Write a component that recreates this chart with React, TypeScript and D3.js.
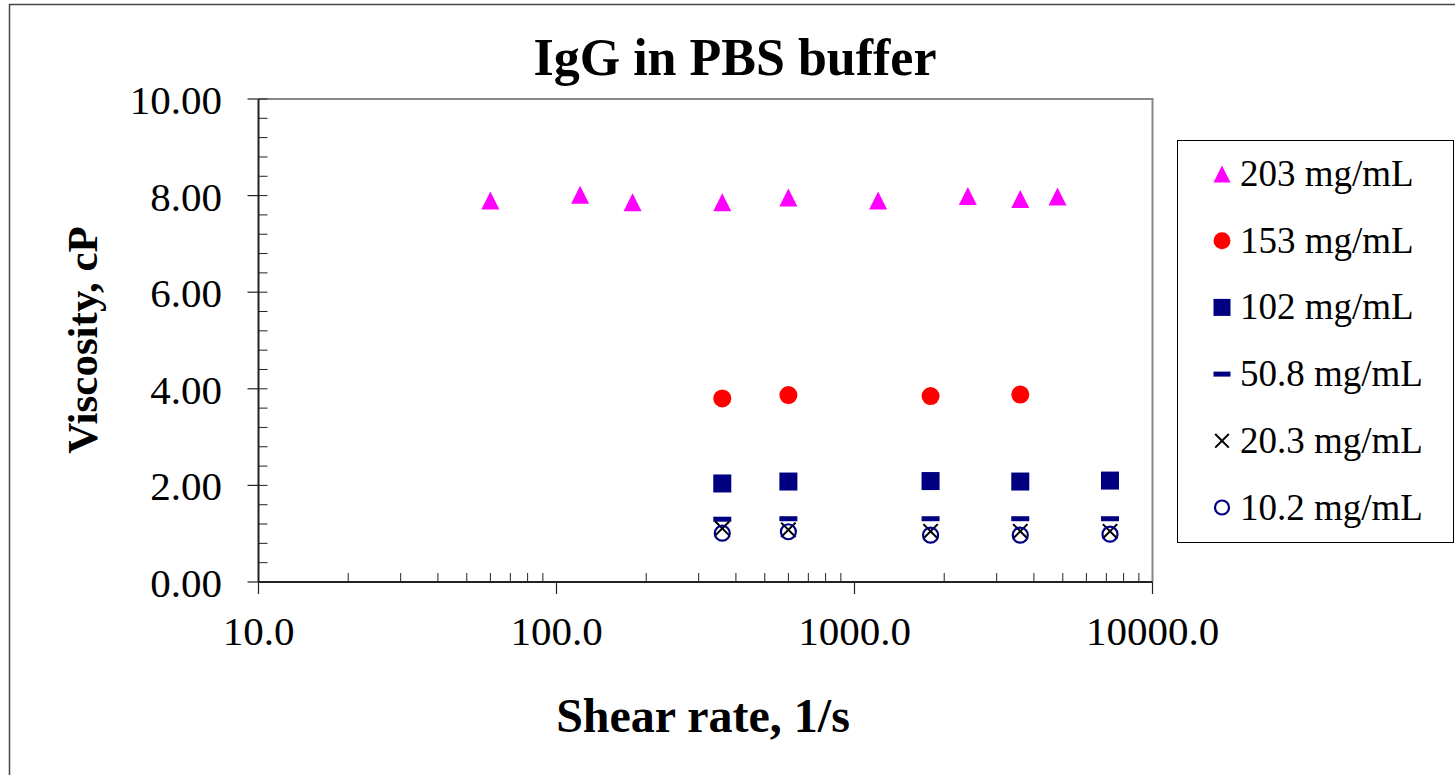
import * as d3 from "d3";

// shear rates (1/s) and viscosities (cP) per concentration
const rates203 = [60, 120, 180, 360, 600, 1200, 2400, 3600, 4800];
const visc203 = [7.9, 8.02, 7.86, 7.86, 7.96, 7.9, 7.99, 7.93, 7.98];
const rates153 = [360, 600, 1800, 3600];
const visc153 = [3.8, 3.87, 3.85, 3.88];
const ratesLow = [360, 600, 1800, 3600, 7200];
const visc102 = [2.04, 2.08, 2.09, 2.08, 2.1];
const visc508 = [1.3, 1.31, 1.31, 1.31, 1.31];
const visc203b = [1.11, 1.08, 1.05, 1.05, 1.05];
const visc102b = [1.01, 1.04, 0.97, 0.97, 0.99];

const legendLabels = ["203 mg/mL", "153 mg/mL", "102 mg/mL", "50.8 mg/mL", "20.3 mg/mL", "10.2 mg/mL"];
const xTicks = [10, 100, 1000, 10000];
const yTicks = [0, 2, 4, 6, 8, 10];

type Kind = "tri" | "dot" | "sq" | "dash" | "x" | "ring";

const series: { kind: Kind; xs: number[]; ys: number[] }[] = [
  { kind: "tri", xs: rates203, ys: visc203 },
  { kind: "dot", xs: rates153, ys: visc153 },
  { kind: "sq", xs: ratesLow, ys: visc102 },
  { kind: "dash", xs: ratesLow, ys: visc508 },
  { kind: "x", xs: ratesLow, ys: visc203b },
  { kind: "ring", xs: ratesLow, ys: visc102b },
];

const FONT = "'Liberation Serif', 'Times New Roman', serif";

function Marker({ kind, x, y, s = 18 }: { kind: Kind; x: number; y: number; s?: number }) {
  const h = s / 2;
  switch (kind) {
    case "tri":
      return <path d={`M${x},${y - h}L${x + h},${y + h}L${x - h},${y + h}Z`} fill="#FF00FF" />;
    case "dot":
      return <circle cx={x} cy={y} r={h} fill="#FF0000" />;
    case "sq":
      return <rect x={x - h} y={y - h} width={s} height={s} fill="#000080" />;
    case "dash":
      return <rect x={x - h} y={y - 2.5} width={s} height={5} fill="#000080" />;
    case "x": {
      const k = h * 0.8;
      return (
        <path
          d={`M${x - k},${y - k}L${x + k},${y + k}M${x - k},${y + k}L${x + k},${y - k}`}
          stroke="#000"
          strokeWidth={2}
        />
      );
    }
    case "ring":
      return <circle cx={x} cy={y} r={h - 1.5} fill="none" stroke="#000080" strokeWidth={2.2} />;
  }
}

export default function App() {
  const W = 1455;
  const H = 775;
  const left = 258.5;
  const right = 1152.5;
  const top = 99;
  const bottom = 582;

  const x = d3.scaleLog().domain([10, 10000]).range([left, right]);
  const y = d3.scaleLinear().domain([0, 10]).range([bottom, top]);

  const yMinor = d3.range(0, 10.001, 0.4);
  const xMinor: number[] = [];
  for (const d of [10, 100, 1000]) for (let m = 2; m <= 9; m++) xMinor.push(d * m);

  const fy = d3.format(".2f");
  const fx = d3.format(".1f");

  return (
    <svg width={W} height={H} style={{ position: "absolute", left: 0, top: 0, background: "#fff" }}>
      <rect x={9.5} y={4.5} width={W + 20} height={H + 20} fill="#fff" stroke="#444" strokeWidth={1.5} />

      <text x={735} y={75} textAnchor="middle" fontFamily={FONT} fontWeight="bold" fontSize={52}>
        IgG in PBS buffer
      </text>

      {/* plot frame */}
      <path d={`M${left},${top}H${right}V${bottom}`} fill="none" stroke="#888" strokeWidth={2} />

      {/* y axis */}
      <line x1={left} x2={left} y1={top} y2={bottom} stroke="#222" strokeWidth={2} />
      {yMinor.map((v, i) => (
        <line key={"ym" + i} x1={left} x2={left + 9} y1={y(v)} y2={y(v)} stroke="#222" strokeWidth={1} />
      ))}
      {yTicks.map((v) => (
        <g key={"y" + v}>
          <line x1={left - 11} x2={left} y1={y(v)} y2={y(v)} stroke="#222" strokeWidth={1.2} />
          <text x={222} y={y(v) + 15} textAnchor="end" fontFamily={FONT} fontSize={41}>
            {fy(v)}
          </text>
        </g>
      ))}

      {/* x axis */}
      <line x1={left} x2={right} y1={bottom} y2={bottom} stroke="#222" strokeWidth={2} />
      {xMinor.map((v, i) => (
        <line key={"xm" + i} x1={x(v)} x2={x(v)} y1={bottom - 9} y2={bottom} stroke="#222" strokeWidth={1} />
      ))}
      {xTicks.map((v) => (
        <g key={"x" + v}>
          <line x1={x(v)} x2={x(v)} y1={bottom} y2={bottom + 12} stroke="#222" strokeWidth={1.2} />
          <text x={x(v)} y={645} textAnchor="middle" fontFamily={FONT} fontSize={41}>
            {fx(v)}
          </text>
        </g>
      ))}

      <text
        transform={`translate(97,340) rotate(-90)`}
        textAnchor="middle"
        fontFamily={FONT}
        fontWeight="bold"
        fontSize={43}
      >
        Viscosity, cP
      </text>
      <text x={703} y={732} textAnchor="middle" fontFamily={FONT} fontWeight="bold" fontSize={48}>
        Shear rate, 1/s
      </text>

      {/* data */}
      {series.map((s, si) => (
        <g key={"s" + si}>
          {s.xs.map((r, i) => (
            <Marker key={i} kind={s.kind} x={x(r)} y={y(s.ys[i])} />
          ))}
        </g>
      ))}

      {/* legend */}
      <rect x={1177.5} y={140.5} width={276} height={402} fill="#fff" stroke="#000" strokeWidth={1} />
      {legendLabels.map((l, i) => {
        const cy = 174 + i * 66.7;
        return (
          <g key={l}>
            <Marker kind={series[i].kind} x={1222} y={cy} s={17} />
            <text x={1240} y={cy + 12} fontFamily={FONT} fontSize={37}>
              {l}
            </text>
          </g>
        );
      })}
    </svg>
  );
}
